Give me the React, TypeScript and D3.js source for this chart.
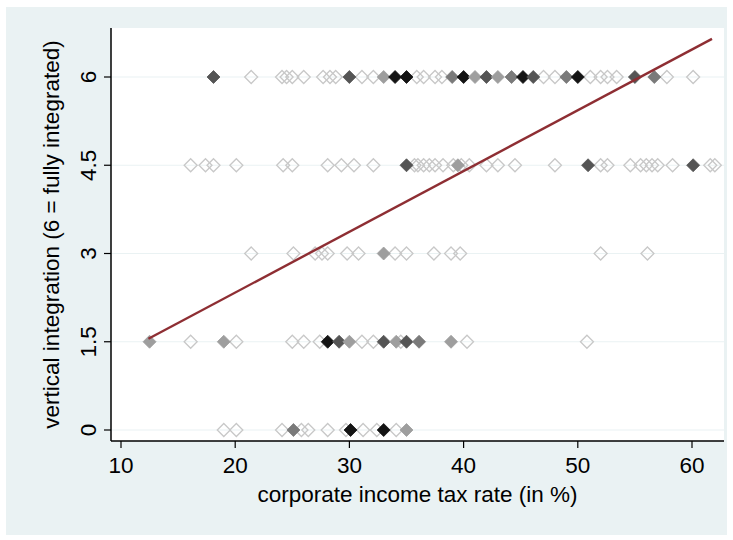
import React from "react";
import * as d3 from "d3";

// ---- data ----
const xTicks = [10, 20, 30, 40, 50, 60];
const yTicks = [0, 1.5, 3, 4.5, 6];
const xTitle = "corporate income tax rate (in %)";
const yTitle = "vertical integration (6 = fully integrated)";

// shade: 0 hollow, 1 light, 2 mid, 3 dark, 4 black
const row6x = [18.1, 21.4, 24.1, 24.5, 25.0, 26.0, 27.7, 28.3, 28.8, 30.0, 31.1, 32.1, 33.0, 34.0, 35.0, 35.9, 36.5, 37.5, 38.1, 39.0, 40.0, 41.0, 42.0, 43.0, 44.2, 45.2, 46.1, 47.0, 48.0, 49.0, 50.0, 51.1, 52.0, 52.6, 53.4, 55.0, 56.7, 57.8, 60.1];
const row6s = [3, 0, 0, 0, 0, 0, 0, 0, 0, 3, 0, 0, 1, 4, 4, 0, 0, 0, 0, 2, 4, 1, 3, 1, 2, 4, 3, 0, 0, 2, 4, 0, 0, 0, 0, 3, 2, 0, 0];

const row45x = [16.1, 17.4, 18.1, 20.1, 24.2, 25.0, 28.1, 29.3, 30.4, 32.1, 35.0, 35.7, 36.0, 36.5, 37.0, 37.5, 38.2, 39.1, 39.5, 39.8, 40.5, 42.0, 43.0, 44.5, 48.0, 50.9, 52.0, 52.6, 54.6, 55.5, 56.0, 56.5, 57.0, 58.3, 60.1, 61.6, 62.0];
const row45s = [0, 0, 0, 0, 0, 0, 0, 0, 0, 0, 3, 0, 0, 0, 0, 0, 0, 0, 1, 0, 0, 0, 0, 0, 0, 3, 0, 0, 0, 0, 0, 0, 0, 0, 3, 0, 0];

const row3x = [21.4, 25.1, 27.0, 27.6, 28.1, 29.8, 30.8, 33.0, 34.0, 35.0, 37.4, 38.9, 39.7, 52.0, 56.1];
const row3s = [0, 0, 0, 0, 0, 0, 0, 1, 0, 0, 0, 0, 0, 0, 0];

const row15x = [12.5, 16.1, 19.0, 20.1, 25.0, 26.0, 27.4, 28.1, 29.1, 30.0, 31.1, 32.1, 33.0, 34.1, 34.5, 35.0, 36.1, 38.9, 40.3, 50.8];
const row15s = [1, 0, 1, 0, 0, 0, 0, 4, 3, 1, 0, 0, 3, 1, 0, 3, 2, 1, 0, 0];

const row0x = [19.0, 20.1, 24.1, 25.1, 25.8, 26.4, 28.1, 29.7, 30.1, 31.2, 32.4, 33.0, 34.1, 35.0];
const row0s = [0, 0, 0, 2, 0, 0, 0, 0, 4, 0, 0, 4, 0, 1];

const fitX = [12.4, 61.75];
const fitSlope = 0.1033;
const fitIntercept = 0.27;

const shadeFill = ["none", "#9e9e9e", "#7a7a7a", "#555555", "#141414"];

export default function App() {
  const W = 733, H = 540;
  const left = 111, right = 724, top = 28, bottom = 441;
  const x = d3.scaleLinear().domain([10, 60]).range([121, 692]);
  const y = d3.scaleLinear().domain([0, 6]).range([430, 77]);
  const font = "'Liberation Sans', Arial, Helvetica, sans-serif";
  const fs = 22.5;

  const rows: { v: number; xs: number[]; ss: number[] }[] = [
    { v: 6, xs: row6x, ss: row6s },
    { v: 4.5, xs: row45x, ss: row45s },
    { v: 3, xs: row3x, ss: row3s },
    { v: 1.5, xs: row15x, ss: row15s },
    { v: 0, xs: row0x, ss: row0s },
  ];
  const pts = rows.flatMap((r) => r.xs.map((xv, i) => ({ x: xv, y: r.v, s: r.ss[i] })));
  const hollow = pts.filter((p) => p.s === 0);
  const filled = pts.filter((p) => p.s > 0);
  const r = 6.5;
  const diamond = `M0,${-r}L${r},0L0,${r}L${-r},0Z`;

  const line = d3.line<number>().x((d) => x(d)).y((d) => y(fitIntercept + fitSlope * d));

  return (
    <svg width={W} height={H} style={{ position: "absolute", left: 0, top: 0, background: "#fff" }}>
      <rect x={6} y={7} width={721} height={528} fill="#eaf2f3" />
      <rect x={left} y={top} width={right - left} height={bottom - top} fill="#ffffff" />
      {yTicks.map((t) => (
        <line key={"g" + t} x1={left} x2={right} y1={y(t)} y2={y(t)} stroke="#eaf2f3" strokeWidth={1.2} />
      ))}
      {hollow.map((p, i) => (
        <path key={"h" + i} d={diamond} transform={`translate(${x(p.x)},${y(p.y)})`} fill="none" stroke="#c8c8c8" strokeWidth={1.3} />
      ))}
      {filled.map((p, i) => (
        <path key={"f" + i} d={diamond} transform={`translate(${x(p.x)},${y(p.y)})`} fill={shadeFill[p.s]} stroke={shadeFill[p.s]} strokeWidth={0.8} />
      ))}
      <path d={line(fitX) || ""} fill="none" stroke="#8e2e33" strokeWidth={2.4} />
      <line x1={left} x2={left} y1={top} y2={bottom} stroke="#000" strokeWidth={1.5} />
      <line x1={left} x2={right} y1={bottom} y2={bottom} stroke="#000" strokeWidth={1.5} />
      {yTicks.map((t) => (
        <g key={"yt" + t}>
          <line x1={left - 7} x2={left} y1={y(t)} y2={y(t)} stroke="#000" strokeWidth={1.2} />
          <text transform={`translate(96,${y(t)}) rotate(-90)`} textAnchor="middle" fontFamily={font} fontSize={fs} fill="#000">
            {String(t)}
          </text>
        </g>
      ))}
      {xTicks.map((t) => (
        <g key={"xt" + t}>
          <line x1={x(t)} x2={x(t)} y1={bottom} y2={bottom + 7} stroke="#000" strokeWidth={1.2} />
          <text x={x(t)} y={473} textAnchor="middle" fontFamily={font} fontSize={fs} fill="#000">
            {String(t)}
          </text>
        </g>
      ))}
      <text x={(left + right) / 2} y={502} textAnchor="middle" fontFamily={font} fontSize={fs} fill="#000">
        {xTitle}
      </text>
      <text transform={`translate(59,${(top + bottom) / 2}) rotate(-90)`} textAnchor="middle" fontFamily={font} fontSize={fs} fill="#000">
        {yTitle}
      </text>
    </svg>
  );
}
